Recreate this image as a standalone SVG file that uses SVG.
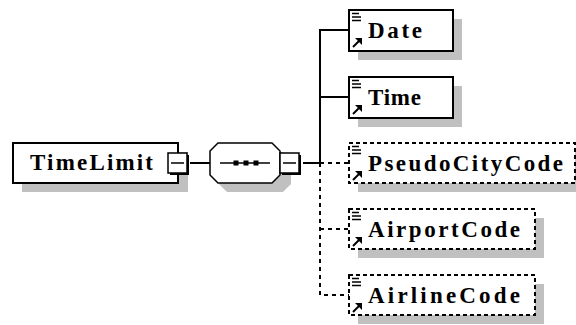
<svg xmlns="http://www.w3.org/2000/svg" width="576" height="325" viewBox="0 0 576 325">
<style>
.shadow{fill:#c0c0c0;stroke:none}
.box{fill:#fff;stroke:#000;stroke-width:2}
.opt{fill:#fff;stroke:#000;stroke-width:2;stroke-dasharray:4 3}
.lbl{font-family:"Liberation Serif",serif;font-weight:bold;font-size:23px;fill:#000}
.ln{fill:none;stroke:#000;stroke-width:2}
.dl{fill:none;stroke:#000;stroke-width:2;stroke-dasharray:4 4}
.ic{fill:none;stroke:#000;stroke-width:1.5}
</style>
<defs>
<g id="icons">
<path class="ic" d="M3 3.5h7M3 7h9M3 10.5h9"/>
<path stroke="#000" stroke-width="2" d="M4 37l7-7"/>
<path d="M13 28v7l-7-7z" fill="#000"/>
</g>
<g id="minus">
<rect x="2" y="2" width="19" height="20" fill="#000"/>
<rect x="0" y="0" width="19" height="20" fill="#fff" stroke="#000" stroke-width="1.5"/>
<path d="M3 10h13" stroke="#000" stroke-width="1.5"/>
</g>
</defs>
<g id="connectors">
<path class="ln" d="M190 163H210"/>
<path class="ln" d="M303 163H320M320 163V30H349M320 97H349"/>
<path class="dl" d="M320 163H349M320 163V295H349M320 229H349"/>
</g>
<g id="TimeLimit">
<rect class="shadow" x="22" y="152" width="166" height="40"/>
<rect class="box" x="13" y="143" width="165" height="40"/>
<text class="lbl" x="30" y="170" textLength="123" lengthAdjust="spacing">TimeLimit</text>
<use href="#minus" x="168" y="153"/>
</g>
<g id="sequence">
<path class="shadow" d="M227 152h56l8 8v24l-8 8h-56l-8-8v-24z"/>
<path fill="#fff" stroke="#000" stroke-width="1.5" d="M218 143h54l8 8v24l-8 8h-54l-8-8v-24z"/>
<path d="M220 163H270" stroke="#000" stroke-width="1.5"/>
<rect x="233.5" y="160.5" width="5" height="5"/>
<rect x="243.5" y="160.5" width="5" height="5"/>
<rect x="253.5" y="160.5" width="5" height="5"/>
<use href="#minus" x="280" y="153"/>
</g>
<g id="Date">
<rect class="shadow" x="358" y="19" width="104" height="41"/>
<rect class="box" x="349" y="10" width="104" height="41"/>
<use href="#icons" x="349" y="10"/>
<text class="lbl" x="368" y="38" textLength="54" lengthAdjust="spacing">Date</text>
</g>
<g id="Time">
<rect class="shadow" x="358" y="86" width="104" height="41"/>
<rect class="box" x="349" y="77" width="104" height="41"/>
<use href="#icons" x="349" y="77"/>
<text class="lbl" x="368" y="105" textLength="53" lengthAdjust="spacing">Time</text>
</g>
<g id="PseudoCityCode">
<rect class="shadow" x="358" y="152" width="230" height="40"/>
<rect class="opt" x="349" y="143" width="226" height="40"/>
<use href="#icons" x="349" y="143"/>
<text class="lbl" x="368" y="171" textLength="195" lengthAdjust="spacing">PseudoCityCode</text>
</g>
<g id="AirportCode">
<rect class="shadow" x="358" y="218" width="186" height="40"/>
<rect class="opt" x="349" y="209" width="186" height="40"/>
<use href="#icons" x="349" y="209"/>
<text class="lbl" x="368" y="237" textLength="152" lengthAdjust="spacing">AirportCode</text>
</g>
<g id="AirlineCode">
<rect class="shadow" x="358" y="284" width="186" height="40"/>
<rect class="opt" x="349" y="275" width="186" height="40"/>
<use href="#icons" x="349" y="275"/>
<text class="lbl" x="368" y="303" textLength="152" lengthAdjust="spacing">AirlineCode</text>
</g>
</svg>
